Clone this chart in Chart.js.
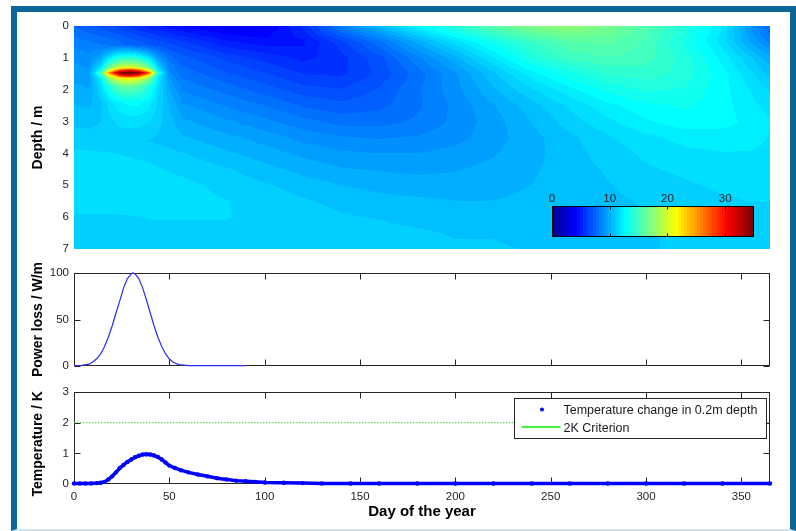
<!DOCTYPE html>
<html>
<head>
<meta charset="utf-8">
<script src="https://cdn.jsdelivr.net/npm/chart.js@4.4.0/dist/chart.umd.min.js"></script>
<style>
  html, body { margin: 0; padding: 0; background: #fff; }
  #page { position: relative; width: 796px; height: 531px; overflow: hidden; background: #fff; }
  #frame { position: absolute; left: 11px; top: 6px; width: 773px; height: 517px;
           border-left: 6px solid #0b6597; border-top: 6px solid #0b6597;
           border-right: 6px solid #0b6597; border-bottom: 2px solid #d3e6f0; background: #fff; }
  canvas { position: absolute; left: 0; top: 0; }
  #cb { left: 530px; top: 180px; }
</style>
</head>
<body>
<div id="page">
  <div id="frame"></div>
  <canvas id="heat" width="796" height="531"></canvas>
  <canvas id="power" width="796" height="531"></canvas>
  <canvas id="temp" width="796" height="531"></canvas>
  <canvas id="cb" width="240" height="70"></canvas>
</div>
<script>
// tick labels
const dayTicks = [0, 50, 100, 150, 200, 250, 300, 350];
const depthTicks = [0, 1, 2, 3, 4, 5, 6, 7];
const powerTicks = [0, 50, 100];
const tempTicks = [0, 1, 2, 3];
const cbTicks = [0, 10, 20, 30];
const cbRange = [0, 35];

// soil temperature field (deg C), rows = depth, columns = day
const heatDays = [0, 20, 40, 60, 80, 100, 120, 140, 160, 180, 200, 220, 240, 260, 280, 300, 320, 340, 355, 365];
const heatDepths = [0, 0.5, 1, 1.5, 2, 2.5, 3, 3.5, 4, 4.5, 5, 5.5, 6, 6.5, 7];
const heatTemps = [
  [7.6, 6.6, 5.2, 4.2, 3.6, 3.7, 5.6, 8.5, 10.5, 12.6, 14.4, 15.9, 17.2, 17.8, 16.9, 15.6, 14.0, 12.0, 9.2, 7.6],
  [8.5, 7.9, 6.9, 6.0, 5.0, 4.6, 4.8, 6.3, 8.0, 10.0, 11.8, 13.4, 14.8, 15.8, 16.0, 15.2, 13.6, 11.8, 9.8, 8.6],
  [9.2, 8.6, 7.9, 7.2, 6.4, 5.8, 5.3, 5.8, 6.9, 8.6, 10.2, 12.0, 13.8, 14.9, 15.3, 15.0, 14.0, 12.4, 11.0, 10.0],
  [9.6, 9.2, 8.6, 7.9, 7.2, 6.6, 6.0, 5.9, 6.7, 7.9, 9.2, 10.8, 12.3, 13.5, 14.3, 14.5, 14.0, 12.8, 11.6, 10.8],
  [10.0, 9.8, 9.2, 8.6, 8.0, 7.4, 6.8, 6.6, 7.2, 8.1, 9.1, 10.3, 11.4, 12.4, 13.3, 13.8, 13.6, 12.8, 12.0, 11.4],
  [10.4, 10.3, 9.8, 9.3, 8.7, 8.2, 7.6, 7.3, 7.5, 8.1, 8.9, 9.8, 10.7, 11.6, 12.4, 13.0, 13.2, 12.8, 12.2, 11.8],
  [10.8, 10.7, 10.3, 9.9, 9.4, 8.9, 8.4, 8.0, 8.0, 8.3, 8.9, 9.6, 10.4, 11.2, 11.9, 12.5, 12.9, 12.8, 12.4, 12.1],
  [11.2, 11.1, 10.8, 10.4, 10.0, 9.6, 9.1, 8.8, 8.7, 8.8, 9.1, 9.6, 10.2, 10.8, 11.4, 11.9, 12.2, 12.3, 12.2, 12.0],
  [11.6, 11.5, 11.3, 10.9, 10.5, 10.1, 9.7, 9.4, 9.3, 9.3, 9.5, 9.8, 10.2, 10.7, 11.2, 11.6, 11.9, 12.0, 12.0, 11.9],
  [11.8, 11.8, 11.6, 11.3, 11.0, 10.6, 10.2, 9.9, 9.8, 9.7, 9.8, 10.0, 10.3, 10.7, 11.0, 11.4, 11.6, 11.8, 11.8, 11.8],
  [11.8, 11.9, 11.8, 11.6, 11.3, 11.0, 10.7, 10.4, 10.2, 10.1, 10.1, 10.2, 10.4, 10.6, 10.9, 11.2, 11.4, 11.6, 11.6, 11.6],
  [11.8, 11.8, 11.8, 11.7, 11.5, 11.3, 11.0, 10.8, 10.6, 10.5, 10.4, 10.4, 10.5, 10.6, 10.8, 11.0, 11.2, 11.4, 11.5, 11.5],
  [11.4, 11.4, 11.5, 11.5, 11.5, 11.4, 11.2, 11.0, 10.9, 10.8, 10.7, 10.6, 10.6, 10.7, 10.8, 10.9, 11.1, 11.2, 11.3, 11.3],
  [11.4, 11.4, 11.4, 11.4, 11.4, 11.4, 11.3, 11.2, 11.1, 11.0, 10.9, 10.9, 10.8, 10.8, 10.9, 10.9, 11.0, 11.1, 11.2, 11.2],
  [11.4, 11.4, 11.4, 11.4, 11.4, 11.4, 11.4, 11.3, 11.2, 11.1, 11.0, 11.0, 10.9, 10.9, 10.9, 10.9, 11.0, 11.1, 11.1, 11.2]
];

// extra heating around the cable (K above the field)
const hotDays = [8, 14, 19, 24, 29, 34, 39, 44, 50, 56];
const hotDepths = [0.6, 0.9, 1.15, 1.3, 1.4, 1.47, 1.55, 1.65, 1.9, 2.4, 3.0, 3.6];
const hotExcess = [
  [0, 0, 0, 0, 0, 0, 0, 0, 0, 0],
  [0, 0.8, 2.5, 4.0, 4.5, 4.0, 2.8, 1.2, 0.3, 0],
  [0, 1.8, 5.5, 8.0, 8.5, 8.0, 6.0, 2.5, 0.5, 0],
  [0, 2.8, 8.0, 11.0, 12.0, 11.0, 8.5, 3.2, 0.6, 0],
  [0, 4.0, 12.0, 20.0, 23.0, 20.0, 13.0, 4.0, 0.6, 0],
  [0, 6.0, 18.0, 26.0, 27.0, 26.0, 20.0, 6.0, 0.7, 0],
  [0, 4.0, 12.0, 20.0, 23.0, 20.0, 13.0, 4.0, 0.7, 0],
  [0, 2.8, 8.5, 11.5, 12.5, 11.5, 9.0, 3.5, 0.9, 0],
  [0, 1.8, 4.5, 6.5, 7.0, 6.5, 5.0, 2.8, 1.0, 0.2],
  [0, 0.6, 1.6, 2.4, 2.8, 2.9, 2.6, 1.8, 0.9, 0.2],
  [0, 0.2, 0.6, 1.0, 1.2, 1.3, 1.2, 0.9, 0.5, 0.1],
  [0, 0, 0, 0, 0, 0, 0, 0, 0, 0]
];

// power loss of the cable
const powerDays = [0, 4, 8, 10, 12, 14, 16, 18, 20, 22, 24, 26, 28, 30, 31, 32, 34, 36, 38, 40, 42, 44, 46, 48, 50, 52, 55, 60, 70, 80, 90];
const powerLoss = [0.3, 0.8, 2, 4.5, 8, 13, 21, 31, 43, 57, 70, 84, 94, 99, 100, 99, 94, 84, 71, 57, 43, 31, 21, 13, 7.5, 4, 1.5, 0.5, 0.3, 0.3, 0.3];

// temperature change in 0.2 m depth
const tempDays = [0, 3, 6, 9, 12, 14, 16, 18, 20, 22, 24, 26, 28, 30, 32, 34, 36, 38, 40, 42, 44, 46, 48, 50, 53,
  56, 60, 65, 70, 75, 80, 85, 90, 95, 100, 110, 120, 130, 145, 160, 180, 200, 220, 240, 260, 280, 300, 320, 340, 365];
const tempChange = [0.02, 0.02, 0.02, 0.02, 0.03, 0.04, 0.07, 0.15, 0.25, 0.38, 0.52, 0.62, 0.72, 0.8, 0.87, 0.92, 0.96, 0.97, 0.96, 0.93, 0.88, 0.8, 0.7, 0.6, 0.52,
  0.45, 0.38, 0.31, 0.25, 0.19, 0.15, 0.11, 0.09, 0.07, 0.05, 0.04, 0.03, 0.02, 0.015, 0.015, 0.015, 0.015, 0.015, 0.015, 0.015, 0.015, 0.015, 0.015, 0.015, 0.015];

const criterionDays = [0, 365];
const criterionLevel = [2, 2];

Chart.defaults.font.family = '"Liberation Sans", Arial, Helvetica, sans-serif';
Chart.defaults.font.size = 11.5;
Chart.defaults.color = '#262626';
Chart.defaults.animation = false;
Chart.defaults.events = [];

const AXIS_W = 74;
const RIGHT_PAD = 26;

// MATLAB jet(64)
function jet64(k) {
  const m = k + 1;
  const u = i => (i <= 16 ? i / 16 : i <= 31 ? 1 : (48 - i) / 16);
  const part = i => (i >= 1 && i <= 47 ? u(i) : 0);
  return [part(m - 24) * 255, part(m - 8) * 255, part(m + 8) * 255];
}
function colourIndex(v) {
  let k = Math.floor((v - cbRange[0]) / (cbRange[1] - cbRange[0]) * 64);
  return Math.max(0, Math.min(63, k));
}

function locate(pos, p) {
  const n = pos.length;
  if (p <= pos[0]) return [0, 0];
  if (p >= pos[n - 1]) return [n - 2, 1];
  let k = 0;
  while (p > pos[k + 1]) k++;
  return [k, (p - pos[k]) / (pos[k + 1] - pos[k])];
}
function bilerp(g, r, fy, c, fx) {
  return (1 - fy) * ((1 - fx) * g[r][c] + fx * g[r][c + 1]) + fy * ((1 - fx) * g[r + 1][c] + fx * g[r + 1][c + 1]);
}

const heatField = {
  id: 'heatField',
  beforeDatasetsDraw(chart) {
    const { ctx, chartArea: a, scales: { x, y } } = chart;
    const colPx = heatDays.map(d => x.getPixelForValue(d));
    const rowPx = heatDepths.map(d => y.getPixelForValue(d));
    const hColPx = hotDays.map(d => x.getPixelForValue(d));
    const hRowPx = hotDepths.map(d => y.getPixelForValue(d));
    const L = Math.round(a.left), T = Math.round(a.top);
    const w = Math.round(a.right) - L, h = Math.round(a.bottom) - T;
    const img = ctx.createImageData(w, h);
    const cols = [], hcols = [];
    for (let i = 0; i < w; i++) {
      const px = L + i + 0.5;
      cols.push(locate(colPx, px));
      hcols.push(px >= hColPx[0] && px <= hColPx[hColPx.length - 1] ? locate(hColPx, px) : null);
    }
    for (let j = 0; j < h; j++) {
      const py = T + j + 0.5;
      const [r, fy] = locate(rowPx, py);
      const hr = py >= hRowPx[0] && py <= hRowPx[hRowPx.length - 1] ? locate(hRowPx, py) : null;
      for (let i = 0; i < w; i++) {
        const [c, fx] = cols[i];
        let v = bilerp(heatTemps, r, fy, c, fx);
        if (hr && hcols[i]) v += bilerp(hotExcess, hr[0], hr[1], hcols[i][0], hcols[i][1]);
        const col = jet64(colourIndex(v));
        const o = (j * w + i) * 4;
        img.data[o] = col[0]; img.data[o + 1] = col[1]; img.data[o + 2] = col[2]; img.data[o + 3] = 255;
      }
    }
    ctx.putImageData(img, L, T);
  }
};

// box round the plot with inward ticks on all sides
const matlabBox = {
  id: 'matlabBox',
  beforeDatasetsDraw(chart, args, opts) {
    const { ctx, chartArea: a, scales: { x, y } } = chart;
    const l = Math.round(a.left) + 0.5, r = Math.round(a.right) - 0.5;
    const t = Math.round(a.top) + 0.5, b = Math.round(a.bottom) - 0.5;
    ctx.save();
    ctx.strokeStyle = '#262626';
    ctx.lineWidth = 1;
    ctx.strokeRect(l, t, r - l, b - t);
    ctx.beginPath();
    opts.xTicks.forEach(v => {
      const px = Math.round(x.getPixelForValue(v)) + 0.5;
      ctx.moveTo(px, b); ctx.lineTo(px, b - 6);
      ctx.moveTo(px, t); ctx.lineTo(px, t + 6);
    });
    opts.yTicks.forEach(v => {
      const py = Math.round(y.getPixelForValue(v)) + 0.5;
      ctx.moveTo(l, py); ctx.lineTo(l + 6, py);
      ctx.moveTo(r, py); ctx.lineTo(r - 6, py);
    });
    ctx.stroke();
    ctx.restore();
  }
};

const boxLegend = {
  id: 'boxLegend',
  afterDraw(chart) {
    const { ctx, chartArea: a } = chart;
    const sets = chart.data.datasets;
    ctx.save();
    ctx.font = '12.5px "Liberation Sans", Arial, sans-serif';
    const textW = Math.max(...sets.map(s => ctx.measureText(s.label).width));
    const bw = Math.round(49 + textW + 9), bh = 40;
    const bx = Math.round(a.right) - 4 - bw + 0.5, by = Math.round(a.top) + 6 + 0.5;
    ctx.fillStyle = '#fff';
    ctx.fillRect(bx, by, bw, bh);
    ctx.strokeStyle = '#262626';
    ctx.lineWidth = 1;
    ctx.strokeRect(bx, by, bw, bh);
    ctx.textBaseline = 'middle';
    sets.forEach((s, i) => {
      const cy = by + 11 + i * 18;
      if (s.showMarker) {
        ctx.fillStyle = s.borderColor;
        ctx.beginPath(); ctx.arc(bx + 27.5, cy, 2, 0, Math.PI * 2); ctx.fill();
      } else {
        ctx.strokeStyle = '#00ee00';
        ctx.lineWidth = 1.5;
        ctx.beginPath(); ctx.moveTo(bx + 7, cy - 0.5); ctx.lineTo(bx + 46, cy - 0.5); ctx.stroke();
      }
      ctx.fillStyle = '#1a1a1a';
      ctx.fillText(s.label, bx + 49, cy + 1);
    });
    ctx.restore();
  }
};

const colourBar = {
  id: 'colourBar',
  beforeDatasetsDraw(chart) {
    const { ctx, chartArea: a, scales: { x } } = chart;
    const step = (cbRange[1] - cbRange[0]) / 64;
    for (let k = 0; k < 64; k++) {
      const x0 = x.getPixelForValue(cbRange[0] + k * step);
      const x1 = x.getPixelForValue(cbRange[0] + (k + 1) * step);
      const c = jet64(k);
      ctx.fillStyle = `rgb(${c[0]},${c[1]},${c[2]})`;
      ctx.fillRect(Math.floor(x0), a.top, Math.ceil(x1) - Math.floor(x0), a.bottom - a.top);
    }
    ctx.save();
    ctx.strokeStyle = '#000';
    ctx.lineWidth = 1;
    const l = Math.round(a.left) + 0.5, r = Math.round(a.right) - 0.5;
    const t = Math.round(a.top) + 0.5, b = Math.round(a.bottom) - 0.5;
    ctx.strokeRect(l, t, r - l, b - t);
    ctx.beginPath();
    cbTicks.forEach(v => {
      const px = Math.round(x.getPixelForValue(v)) + 0.5;
      ctx.moveTo(px, t); ctx.lineTo(px, t + 3);
      ctx.moveTo(px, b); ctx.lineTo(px, b - 3);
    });
    ctx.stroke();
    ctx.restore();
  }
};

function yAxis(text, min, max, tickVals, reverse) {
  return {
    min: min, max: max, reverse: !!reverse,
    afterBuildTicks: s => { s.ticks = tickVals.map(v => ({ value: v })); },
    afterFit: s => { s.width = AXIS_W; },
    grid: { display: false, drawTicks: false },
    border: { display: false },
    ticks: { padding: 5, color: '#262626' },
    title: { display: true, text: text, color: '#000', font: { size: 14, weight: 'bold' }, padding: { top: 30, bottom: 0 } }
  };
}
const hiddenX = { type: 'linear', min: 0, max: 365, display: false };

// depth / day field
new Chart(document.getElementById('heat'), {
  type: 'scatter',
  data: { datasets: [] },
  options: {
    responsive: false,
    layout: { padding: { left: 0, right: RIGHT_PAD, top: 26, bottom: 282 } },
    plugins: { legend: { display: false }, tooltip: { enabled: false } },
    scales: { x: hiddenX, y: yAxis('Depth / m', 0, 7, depthTicks, true) }
  },
  plugins: [heatField]
});

// power loss
new Chart(document.getElementById('power'), {
  type: 'scatter',
  data: {
    datasets: [{
      label: 'Power loss',
      data: powerDays.map((d, i) => ({ x: d, y: powerLoss[i] })),
      showLine: true, borderColor: '#2b2bff', borderWidth: 1.2, pointRadius: 0, clip: 3
    }]
  },
  options: {
    responsive: false,
    layout: { padding: { left: 0, right: RIGHT_PAD, top: 273, bottom: 165 } },
    plugins: { legend: { display: false }, tooltip: { enabled: false }, matlabBox: { xTicks: dayTicks, yTicks: powerTicks } },
    scales: { x: hiddenX, y: yAxis('Power loss / W/m', 0, 100, powerTicks) }
  },
  plugins: [matlabBox]
});

// temperature change
new Chart(document.getElementById('temp'), {
  type: 'scatter',
  data: {
    datasets: [{
      label: 'Temperature change in 0.2m depth',
      data: tempDays.map((d, i) => ({ x: d, y: tempChange[i] })),
      showLine: true, showMarker: true, borderColor: '#0000ff', borderWidth: 3.5,
      pointRadius: 2.2, pointBackgroundColor: '#0000ff', pointBorderWidth: 0, clip: 4
    }, {
      label: '2K Criterion',
      data: criterionDays.map((d, i) => ({ x: d, y: criterionLevel[i] })),
      showLine: true, borderColor: '#3ad63a', borderWidth: 1,
      borderDash: [1.5, 1.5], pointRadius: 0
    }]
  },
  options: {
    responsive: false,
    layout: { padding: { left: 0, right: RIGHT_PAD, top: 392, bottom: 0 } },
    plugins: { legend: { display: false }, tooltip: { enabled: false }, matlabBox: { xTicks: dayTicks, yTicks: tempTicks } },
    scales: {
      x: {
        type: 'linear', min: 0, max: 365,
        afterBuildTicks: s => { s.ticks = dayTicks.map(v => ({ value: v })); },
        afterFit: s => { s.height = 47; },
        grid: { display: false, drawTicks: false },
        border: { display: false },
        ticks: { padding: 6, maxRotation: 0, color: '#262626' },
        title: { display: true, text: 'Day of the year', color: '#000', font: { size: 15, weight: 'bold' }, padding: { top: 0, bottom: 10 } }
      },
      y: yAxis('Temperature / K   ', 0, 3, tempTicks)
    }
  },
  plugins: [matlabBox, boxLegend]
});

// colour bar
new Chart(document.getElementById('cb'), {
  type: 'scatter',
  data: { datasets: [] },
  options: {
    responsive: false,
    layout: { padding: { left: 22, right: 16, top: 0, bottom: 13 } },
    plugins: { legend: { display: false }, tooltip: { enabled: false } },
    scales: {
      x: {
        type: 'linear', position: 'top', min: cbRange[0], max: cbRange[1],
        afterBuildTicks: s => { s.ticks = cbTicks.map(v => ({ value: v })); },
        afterFit: s => { s.height = 26; },
        grid: { display: false, drawTicks: false },
        border: { display: false },
        ticks: { padding: 0, maxRotation: 0, color: '#262626' }
      },
      y: { display: false, min: 0, max: 1 }
    }
  },
  plugins: [colourBar]
});
</script>
</body>
</html>
